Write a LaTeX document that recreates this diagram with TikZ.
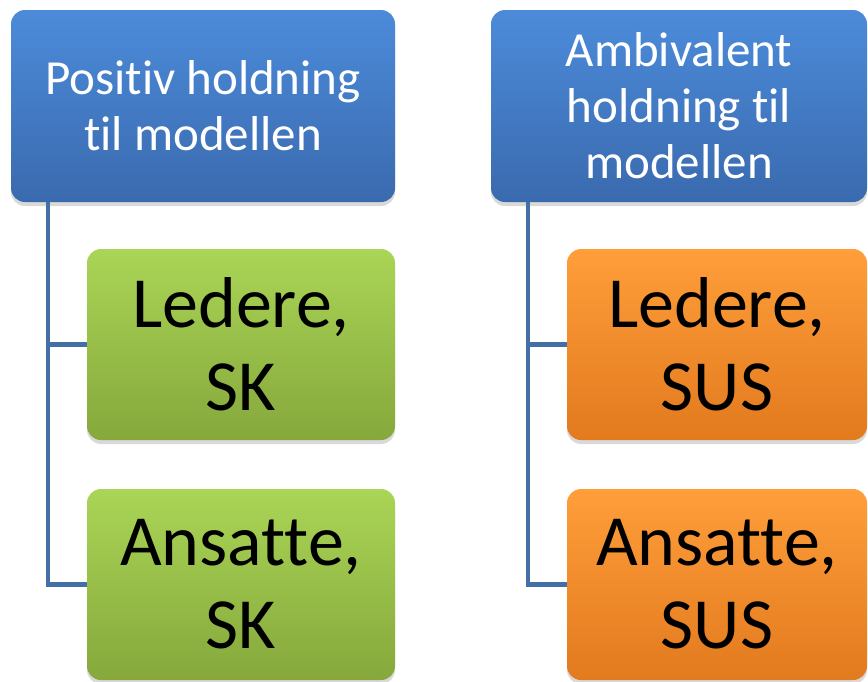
\documentclass[tikz,border=0pt]{standalone}
\usepackage{fontspec}
\setmainfont{Carlito}[Ligatures=NoCommon]
\usetikzlibrary{shadows}

\definecolor{headtop}{RGB}{76,139,218}
\definecolor{headbot}{RGB}{58,106,174}
\definecolor{greentop}{RGB}{170,213,86}
\definecolor{greenbot}{RGB}{134,168,60}
\definecolor{orangetop}{RGB}{255,158,58}
\definecolor{orangebot}{RGB}{226,122,30}
\definecolor{linkcol}{RGB}{66,112,166}

\tikzset{
  box/.style={rectangle,rounded corners=14pt,align=center,inner sep=0pt,
    drop shadow={shadow xshift=0pt,shadow yshift=-4pt,opacity=0.3}},
  headbox/.style={box,top color=headtop,bottom color=headbot,text=white,
    font=\fontsize{49}{56}\selectfont,minimum height=192pt},
  itembox/.style={box,text=black,font=\fontsize{72}{83}\selectfont,
    minimum height=191pt},
  greenbox/.style={itembox,top color=greentop,bottom color=greenbot,minimum width=308pt},
  orangebox/.style={itembox,top color=orangetop,bottom color=orangebot,minimum width=300pt},
  link/.style={draw=linkcol,line width=4.5pt}
}

\begin{document}
\begin{tikzpicture}[x=1pt,y=-1pt]
\useasboundingbox (0,0) rectangle (868,681);
% left column
\node[headbox,minimum width=384pt] (poshead) at (203,106) {Positiv holdning\\til modellen};
\node[greenbox] (ledsk) at (241,344.5) {Ledere,\\SK};
\node[greenbox] (anssk) at (241,584.5) {Ansatte,\\SK};
% right column
\node[headbox,minimum width=376pt] (ambhead) at (679,106) {Ambivalent\\holdning til\\modellen};
\node[orangebox] (ledsus) at (717,344.5) {Ledere,\\SUS};
\node[orangebox] (anssus) at (717,584.5) {Ansatte,\\SUS};
% connectors
\draw[link] ([xshift=37pt]poshead.south west) |- (ledsk.west);
\draw[link] ([xshift=37pt]poshead.south west) |- (anssk.west);
\draw[link] ([xshift=37pt]ambhead.south west) |- (ledsus.west);
\draw[link] ([xshift=37pt]ambhead.south west) |- (anssus.west);
\end{tikzpicture}
\end{document}
